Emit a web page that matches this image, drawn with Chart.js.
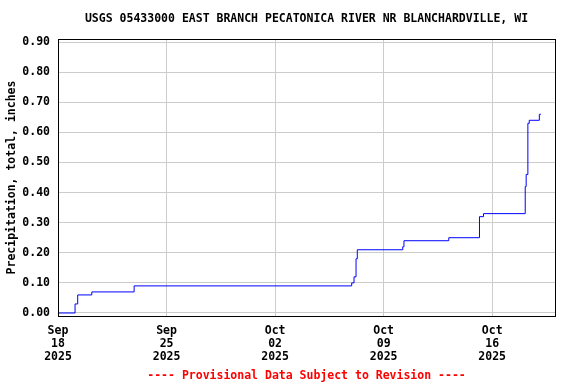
<!DOCTYPE html>
<html>
<head>
<meta charset="utf-8">
<script src="https://cdn.jsdelivr.net/npm/chart.js@4.4.1/dist/chart.umd.min.js"></script>
<style>
  html, body { margin: 0; padding: 0; background: #fff; }
  #wrap { width: 576px; height: 384px; position: relative; }
</style>
</head>
<body>
<div id="wrap"><canvas id="chart" width="576" height="384"></canvas></div>
<script>
// Cumulative precipitation, days since Sep 18 2025 00:00
const dayOffsets = [0, 1.10, 1.27, 2.18, 4.91, 18.94, 19.09, 19.22, 19.30, 22.23, 22.31, 25.20, 27.18, 27.44, 30.13, 30.19, 30.30, 30.39, 31.04, 31.14];
const precipValues = [0.00, 0.03, 0.06, 0.07, 0.09, 0.10, 0.12, 0.18, 0.21, 0.22, 0.24, 0.25, 0.32, 0.33, 0.42, 0.46, 0.63, 0.64, 0.66, 0.66];

const xTickDays = [0, 7, 14, 21, 28];
const xTickLabels = [
  ["Sep", "18", "2025"],
  ["Sep", "25", "2025"],
  ["Oct", "02", "2025"],
  ["Oct", "09", "2025"],
  ["Oct", "16", "2025"]
];
const yTicks = [0, 0.1, 0.2, 0.3, 0.4, 0.5, 0.6, 0.7, 0.8, 0.9];

const titleText = "USGS 05433000 EAST BRANCH PECATONICA RIVER NR BLANCHARDVILLE, WI";
const footText = "---- Provisional Data Subject to Revision ----";
const FONT = "'DejaVu Sans Mono', monospace";

// frame round the plot, plus title and footnote
const framePlugin = {
  id: "frame",
  afterDraw(chart) {
    const { ctx, chartArea: a } = chart;
    ctx.save();
    ctx.strokeStyle = "#000";
    ctx.lineWidth = 1;
    ctx.strokeRect(a.left + 0.5, a.top + 0.5, a.right - a.left, a.bottom - a.top);
    const cx = (a.left + a.right) / 2;
    ctx.font = "bold 11.5px " + FONT;
    ctx.textAlign = "center";
    ctx.textBaseline = "middle";
    ctx.fillStyle = "#000";
    ctx.fillText(titleText, cx, 19);
    ctx.fillStyle = "#ff0000";
    ctx.fillText(footText, cx, 376);
    ctx.restore();
  }
};

new Chart(document.getElementById("chart"), {
  type: "line",
  data: {
    datasets: [{
      data: dayOffsets.map((d, i) => ({ x: d, y: precipValues[i] })),
      borderColor: "#0000ff",
      borderWidth: 1,
      pointRadius: 0,
      stepped: "before",
      fill: false
    }]
  },
  options: {
    responsive: false,
    animation: false,
    layout: { padding: { left: 0, right: 21, top: 39, bottom: 0 } },
    plugins: { legend: { display: false }, title: { display: false }, tooltip: { enabled: false } },
    scales: {
      x: {
        type: "linear",
        min: 0,
        max: 32.05,
        afterFit: s => { s.height = 68; },
        afterBuildTicks: s => { s.ticks = xTickDays.map(v => ({ value: v })); },
        grid: { color: "#cccccc", drawTicks: false },
        border: { display: false },
        ticks: {
          autoSkip: false,
          maxRotation: 0,
          padding: 8,
          color: "#000",
          font: { family: FONT, size: 11.5, weight: "bold", lineHeight: 1.15 },
          callback: (v) => xTickLabels[xTickDays.indexOf(v)]
        }
      },
      y: {
        min: -0.01,
        max: 0.91,
        afterFit: s => { s.width = 58; },
        afterBuildTicks: s => { s.ticks = yTicks.map(v => ({ value: v })); },
        grid: { color: "#cccccc", drawTicks: false },
        border: { display: false },
        ticks: {
          padding: 8,
          color: "#000",
          font: { family: FONT, size: 11.5, weight: "bold" },
          callback: v => v.toFixed(2)
        },
        title: {
          display: true,
          text: "Precipitation, total, inches",
          color: "#000",
          padding: { top: 5, bottom: 0 },
          font: { family: FONT, size: 11.5, weight: "bold" }
        }
      }
    }
  },
  plugins: [framePlugin]
});
</script>
</body>
</html>
